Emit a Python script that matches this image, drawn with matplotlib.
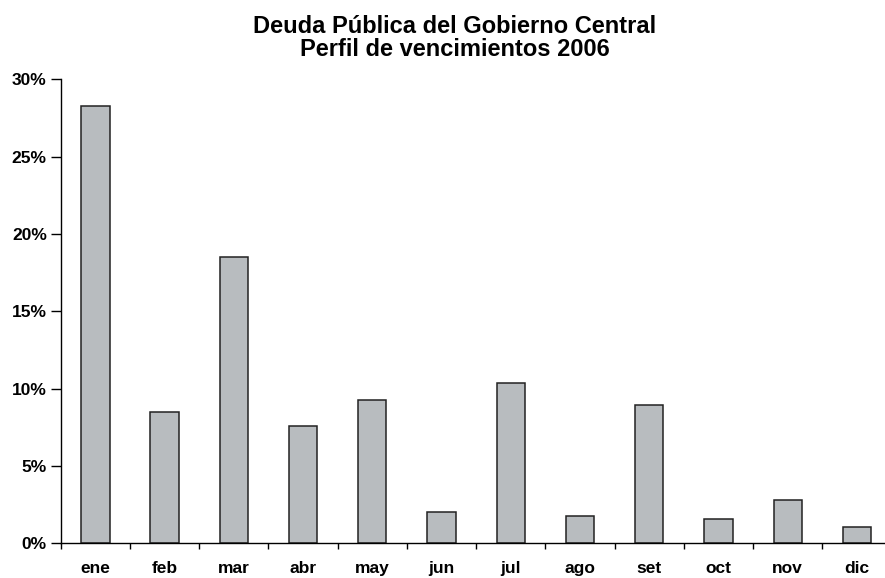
import matplotlib
matplotlib.use('Agg')
import matplotlib.pyplot as plt
import numpy as np
from matplotlib.ticker import FuncFormatter, FixedLocator

# Vencimientos por mes (% del total)
months = ['ene', 'feb', 'mar', 'abr', 'may', 'jun', 'jul', 'ago', 'set', 'oct', 'nov', 'dic']
share = [28.25, 8.5, 18.5, 7.58, 9.24, 2.05, 10.38, 1.74, 8.92, 1.55, 2.8, 1.07]

plt.rcParams['font.family'] = ['Liberation Sans', 'DejaVu Sans']
plt.rcParams['font.weight'] = 'bold'

fig = plt.figure(figsize=(8.85, 5.78), dpi=100)
ax = fig.add_axes([0.0686, 0.060, 0.9388, 0.8028])

x = np.arange(len(months))
ax.bar(x, share, width=0.41, color='#b8bcbf', edgecolor='#222222', linewidth=1.1)

ax.set_xlim(-0.5, len(months) - 0.5)
ax.set_ylim(0, 30)
ax.set_yticks(np.arange(0, 31, 5))
ax.yaxis.set_major_formatter(FuncFormatter(lambda v, p: f'{v:.0f}%'))

# labels centred on bars, tick marks between categories
ax.set_xticks(x)
ax.set_xticklabels(months)
ax.xaxis.set_minor_locator(FixedLocator(np.arange(-0.5, len(months), 1)))
ax.tick_params(axis='x', which='major', length=0, pad=13, labelsize=12.5)
ax.tick_params(axis='x', which='minor', length=4.5, width=1, direction='out')
ax.tick_params(axis='y', length=7, width=1, pad=3, labelsize=12.5)

for s in ['top', 'right']:
    ax.spines[s].set_visible(False)
for s in ['left', 'bottom']:
    ax.spines[s].set_linewidth(1)

fig.text(0.514, 0.934, 'Deuda Pública del Gobierno Central\nPerfil de vencimientos 2006',
         ha='center', va='center', fontsize=17, fontweight='bold', linespacing=1.0)

fig.savefig('out.png', dpi=100)
